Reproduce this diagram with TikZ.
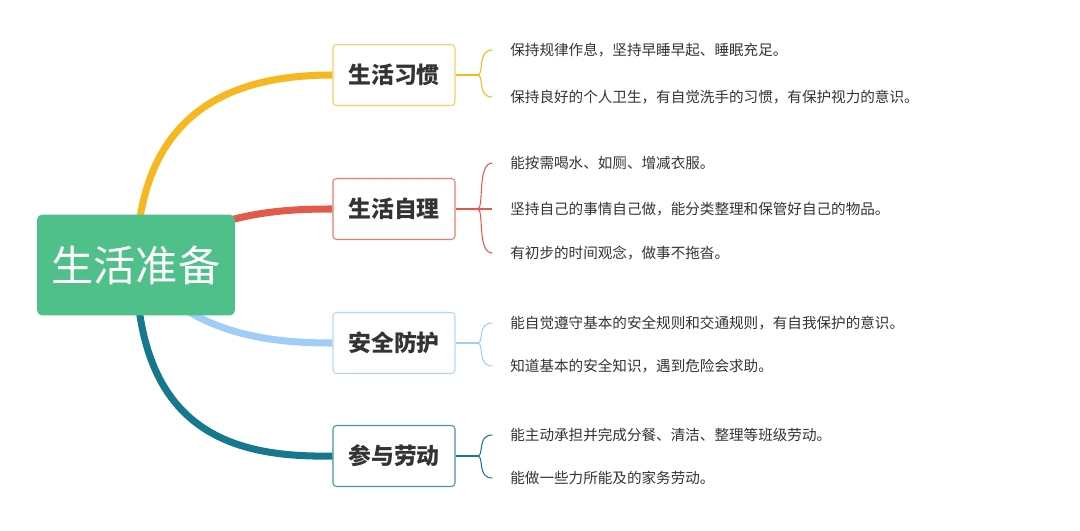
\documentclass[tikz,border=0pt]{standalone}
\usepackage{fontspec}
\setmainfont{Noto Sans CJK SC}
\usetikzlibrary{backgrounds}
\definecolor{root_green}{RGB}{80,192,138}
\definecolor{edge_yellow}{RGB}{245,184,32}
\definecolor{edge_red}{RGB}{226,90,74}
\definecolor{edge_blue}{RGB}{160,205,245}
\definecolor{edge_teal}{RGB}{22,120,140}
\definecolor{text_gray}{RGB}{51,51,51}

\begin{document}
\begin{tikzpicture}[x=0.02cm,y=-0.02cm]
    \tikzstyle{topic}=[draw, rounded corners=2pt, minimum width=2.44cm, minimum height=1.22cm, line width=0.6pt, text=text_gray, font=\fontsize{13}{15}\selectfont\bfseries, fill=white]
    \tikzstyle{leaf}=[anchor=west, inner sep=0pt, text=text_gray, font=\fontsize{8.3}{10}\selectfont]
    \tikzstyle{branch}=[line width=4pt]
    \tikzstyle{brace}=[line width=0.6pt]

    \useasboundingbox (0,0) rectangle (1080,531);

    \node[fill=root_green, rounded corners=3pt, minimum width=3.96cm, minimum height=2.02cm, text=white, font=\fontsize{24}{30}\selectfont] (root) at (136,265) {生活准备};

    \node[topic, draw=edge_yellow!70] (hab) at (394,75)  {生活习惯};
    \node[topic, draw=edge_red!80]    (care) at (394,209) {生活自理};
    \node[topic, draw=edge_blue!80]   (safe) at (394,343) {安全防护};
    \node[topic, draw=edge_teal!80]   (work) at (394,456) {参与劳动};

    \node[leaf] (h1) at (510,50)  {保持规律作息，坚持早睡早起、睡眠充足。};
    \node[leaf] (h2) at (510,97)  {保持良好的个人卫生，有自觉洗手的习惯，有保护视力的意识。};
    \node[leaf] (c1) at (510,163) {能按需喝水、如厕、增减衣服。};
    \node[leaf] (c2) at (510,209) {坚持自己的事情自己做，能分类整理和保管好自己的物品。};
    \node[leaf] (c3) at (510,253) {有初步的时间观念，做事不拖沓。};
    \node[leaf] (s1) at (510,323) {能自觉遵守基本的安全规则和交通规则，有自我保护的意识。};
    \node[leaf] (s2) at (510,366) {知道基本的安全知识，遇到危险会求助。};
    \node[leaf] (w1) at (510,435) {能主动承担并完成分餐、清洁、整理等班级劳动。};
    \node[leaf] (w2) at (510,478) {能做一些力所能及的家务劳动。};

    \begin{scope}[on background layer]
    \draw[branch, edge_yellow] (root.center) .. controls (138,120) and (220,75) .. (hab.west);
    \draw[branch, edge_red] (root.center) .. controls (210,212) and (280,209) .. (care.west);
    \draw[branch, edge_blue] (root.center) .. controls (190,335) and (270,343) .. (safe.west);
    \draw[branch, edge_teal] (root.center) .. controls (138,430) and (230,458) .. (work.west);
    \end{scope}

    \foreach \topic/\col/\leaves in {hab/edge_yellow/{h1,h2}, care/edge_red/{c1,c2,c3}, safe/edge_blue/{s1,s2}, work/edge_teal/{w1,w2}}{
      \draw[brace, \col] (\topic.east) -- ++(22,0) coordinate (fork);
      \foreach \l in \leaves
        \draw[brace, \col] (fork) .. controls +(7,0) and ([xshift=-19]\l.west) .. ([xshift=-10]\l.west);
    }
\end{tikzpicture}
\end{document}
